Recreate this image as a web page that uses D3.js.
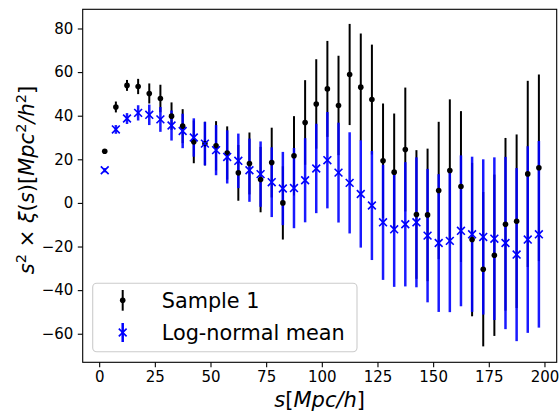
<!DOCTYPE html>
<html>
<head>
<meta charset="utf-8">
<script src="https://d3js.org/d3.v7.min.js"></script>
<style>
  body { margin: 0; background: #fff; }
  svg { display: block; font-family: "DejaVu Sans", sans-serif; }
</style>
</head>
<body>
<div id="chart"></div>
<script>
// separation bins, s [Mpc/h]
const sBins = [2.5, 7.5, 12.5, 17.5, 22.5, 27.5, 32.5, 37.5, 42.5, 47.5,
  52.5, 57.5, 62.5, 67.5, 72.5, 77.5, 82.5, 87.5, 92.5, 97.5,
  102.5, 107.5, 112.5, 117.5, 122.5, 127.5, 132.5, 137.5, 142.5, 147.5,
  152.5, 157.5, 162.5, 167.5, 172.5, 177.5, 182.5, 187.5, 192.5, 197.5];

// Sample 1: s^2 xi(s) and its error
const sampleVals = [23.7, 44.0, 53.9, 53.4, 50.2, 47.9, 39.8, 35.2, 28.0, 27.2,
  26.2, 22.9, 13.8, 18.1, 10.7, 18.5, 0.0, 21.6, 36.9, 45.4,
  52.3, 44.7, 58.9, 53.1, 47.4, 19.3, 14.1, 24.5, -5.3, -5.5,
  5.7, 14.9, 7.5, -16.8, -30.4, -24.0, -9.8, -8.4, 13.3, 16.1];
const sampleErr = [1.0, 2.5, 2.5, 3.5, 4.6, 6.3, 6.3, 7.8, 9.8, 10.0,
  11.3, 12.2, 12.8, 14.2, 15.0, 16.0, 16.8, 18.2, 19.4, 20.5,
  22.0, 22.8, 23.2, 24.6, 25.2, 26.3, 26.9, 28.4, 29.5, 30.4,
  31.5, 32.6, 34.6, 35.2, 35.4, 37.0, 39.6, 39.8, 42.7, 42.8];

// Log-normal mean and its error
const lognVals = [15.0, 33.7, 38.7, 41.3, 40.4, 38.3, 35.5, 33.0, 30.0, 27.2,
  24.2, 21.1, 19.3, 15.0, 13.2, 9.5, 6.6, 6.8, 10.4, 15.8,
  19.6, 13.9, 9.2, 4.1, -1.2, -8.9, -12.1, -9.8, -8.9, -15.0,
  -18.4, -17.4, -12.8, -14.4, -15.6, -16.4, -18.4, -23.7, -16.8, -14.4];
const lognErr = [1.0, 2.0, 2.5, 3.5, 4.7, 5.7, 6.9, 7.9, 8.8, 10.0,
  11.5, 12.2, 12.5, 14.5, 15.0, 16.0, 16.8, 18.4, 19.3, 20.5,
  22.1, 22.9, 23.2, 24.6, 25.0, 26.4, 26.4, 28.5, 29.8, 30.6,
  31.6, 32.7, 34.6, 35.6, 35.6, 37.3, 39.5, 39.7, 42.8, 42.8];

const xTicks = [0, 25, 50, 75, 100, 125, 150, 175, 200];
const yTicks = [-60, -40, -20, 0, 20, 40, 60, 80];

const W = 559, H = 416;
const margin = { top: 9.3, right: 2.3, bottom: 53.7, left: 82.7 };
const iw = W - margin.left - margin.right;
const ih = H - margin.top - margin.bottom;

const svg = d3.select("#chart").append("svg").attr("width", W).attr("height", H);
const g = svg.append("g").attr("transform", `translate(${margin.left},${margin.top})`);

const x = d3.scaleLinear().domain([-7.4, 205.5]).range([0, iw]);
const y = d3.scaleLinear().domain([-73.1, 88.8]).range([ih, 0]);

const sample = sBins.map((s, i) => ({ s, v: sampleVals[i], e: sampleErr[i] }));
const logn = sBins.map((s, i) => ({ s, v: lognVals[i], e: lognErr[i] }));

// error bars first (black, then blue), then markers on top
g.append("g").selectAll("line").data(sample).join("line")
  .attr("x1", d => x(d.s)).attr("x2", d => x(d.s))
  .attr("y1", d => y(d.v - d.e)).attr("y2", d => y(d.v + d.e))
  .attr("stroke", "#000").attr("stroke-width", 2);

g.append("g").selectAll("line").data(logn).join("line")
  .attr("x1", d => x(d.s)).attr("x2", d => x(d.s))
  .attr("y1", d => y(d.v - d.e)).attr("y2", d => y(d.v + d.e))
  .attr("stroke", "#0000ff").attr("stroke-opacity", 0.9).attr("stroke-width", 2.5);

g.append("g").selectAll("circle").data(sample).join("circle")
  .attr("cx", d => x(d.s)).attr("cy", d => y(d.v)).attr("r", 2.8).attr("fill", "#000");

const xm = 3.9;
function xMark(sel) {
  sel.append("path")
    .attr("d", `M${-xm},${-xm}L${xm},${xm}M${-xm},${xm}L${xm},${-xm}`)
    .attr("stroke", "#0000ff").attr("stroke-width", 1.6).attr("fill", "none");
}
g.append("g").selectAll("g").data(logn).join("g")
  .attr("transform", d => `translate(${x(d.s)},${y(d.v)})`)
  .call(xMark);

// axes
const xAxis = g.append("g").attr("transform", `translate(0,${ih})`)
  .call(d3.axisBottom(x).tickValues(xTicks).tickSize(4.9).tickPadding(4.5));
const yAxis = g.append("g")
  .call(d3.axisLeft(y).tickValues(yTicks).tickSize(4.9).tickPadding(4.5)
    .tickFormat(d => d < 0 ? "\u2212" + Math.abs(d) : d));
[xAxis, yAxis].forEach(a => {
  a.selectAll("text").attr("font-size", 15).attr("fill", "#000").attr("font-family", "DejaVu Sans");
  a.selectAll("line").attr("stroke", "#000").attr("stroke-width", 1.1);
  a.select(".domain").remove();
});

g.append("rect").attr("width", iw).attr("height", ih)
  .attr("fill", "none").attr("stroke", "#000").attr("stroke-width", 1.1);

// axis labels
const xl = svg.append("text").attr("x", margin.left + iw / 2).attr("y", 407)
  .attr("text-anchor", "middle").attr("font-size", 21);
xl.append("tspan").attr("font-style", "italic").text("s");
xl.append("tspan").text("[");
xl.append("tspan").attr("font-style", "italic").text("Mpc/h");
xl.append("tspan").text("]");

const yl = svg.append("text").attr("transform", "translate(33.5,180) rotate(-90)")
  .attr("text-anchor", "middle").attr("font-size", 21);
const parts = [
  ["s", true, false], ["2", false, true], [" \u00d7 ", false, false], ["\u03be", true, false],
  ["(", false, false], ["s", true, false], [")[", false, false], ["Mpc", true, false],
  ["2", false, true], ["/", true, false], ["h", true, false], ["2", false, true], ["]", false, false]
];
parts.forEach(([t, it, sup]) => {
  const ts = yl.append("tspan").text(t);
  if (it) ts.attr("font-style", "italic");
  if (sup) ts.attr("font-size", 14.5).attr("dy", -8);
  else ts.attr("dy", 0);
});
// restore baseline after superscripts
yl.selectAll("tspan").each(function(d, i) {
  const prevSup = i > 0 && parts[i - 1][2];
  if (prevSup && !parts[i][2]) d3.select(this).attr("dy", 8);
});

// legend
const lg = svg.append("g");
lg.append("rect").attr("x", 92.7).attr("y", 283.3).attr("width", 264.3).attr("height", 68.4)
  .attr("rx", 4).attr("fill", "#fff").attr("fill-opacity", 0.8)
  .attr("stroke", "#cccccc").attr("stroke-width", 1.1);
const lx = 122.7;
lg.append("line").attr("x1", lx).attr("x2", lx).attr("y1", 290).attr("y2", 310.7)
  .attr("stroke", "#000").attr("stroke-width", 2);
lg.append("circle").attr("cx", lx).attr("cy", 300.3).attr("r", 2.8).attr("fill", "#000");
lg.append("line").attr("x1", lx).attr("x2", lx).attr("y1", 323).attr("y2", 342)
  .attr("stroke", "#0000ff").attr("stroke-width", 2.5);
lg.append("g").attr("transform", `translate(${lx},332.5)`).call(xMark);
lg.append("text").attr("x", 161.7).attr("y", 307.5).attr("font-size", 20.8).text("Sample 1");
lg.append("text").attr("x", 161.7).attr("y", 339.5).attr("font-size", 20.8).text("Log-normal mean");
</script>
</body>
</html>
